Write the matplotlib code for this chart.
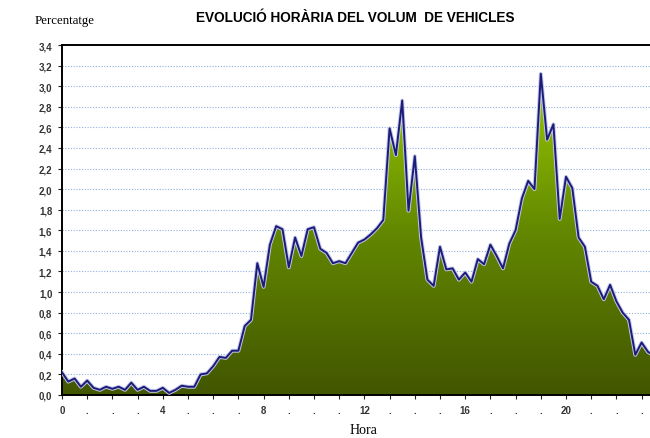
import matplotlib
matplotlib.use("Agg")
import matplotlib.pyplot as plt
import matplotlib.patheffects as pe
import numpy as np
from matplotlib.colors import LinearSegmentedColormap

# quarter-hour share of daily traffic (%), starting at 00:00
volum = [
    0.22, 0.13, 0.16, 0.08, 0.14, 0.07, 0.05, 0.08, 0.06, 0.08, 0.05, 0.12,
    0.05, 0.08, 0.04, 0.04, 0.07, 0.02, 0.05, 0.09, 0.08, 0.08, 0.20, 0.21,
    0.28, 0.37, 0.36, 0.43, 0.43, 0.67, 0.73, 1.28, 1.05, 1.46, 1.64, 1.61,
    1.24, 1.53, 1.35, 1.61, 1.63, 1.42, 1.38, 1.28, 1.30, 1.28, 1.38, 1.48,
    1.51, 1.56, 1.62, 1.70, 2.59, 2.33, 2.86, 1.79, 2.32, 1.53, 1.12, 1.06,
    1.44, 1.22, 1.23, 1.12, 1.19, 1.10, 1.32, 1.27, 1.46, 1.35, 1.23, 1.47,
    1.60, 1.91, 2.08, 2.00, 3.12, 2.48, 2.63, 1.71, 2.12, 2.01, 1.53, 1.44,
    1.10, 1.06, 0.93, 1.07, 0.91, 0.80, 0.73, 0.39, 0.51, 0.42, 0.38, 0.35,
]
hores = np.arange(len(volum)) * 0.25
tick_hores = list(range(24))
tick_labels = [str(h) if h % 4 == 0 else "." for h in tick_hores]
y_ticks = [round(0.2 * k, 1) for k in range(18)]

fig = plt.figure(figsize=(6.5, 4.39), dpi=100)
# plot area runs a little past the right edge of the canvas
ax = fig.add_axes([62 / 650, 43 / 439, 598.5 / 650, 350 / 439])

x_max = hores[-1]
y_max = 3.4
ax.set_xlim(0, x_max)
ax.set_ylim(0, y_max)

# vertical green gradient clipped to the area under the curve
cmap = LinearSegmentedColormap.from_list("verd", ["#425600", "#638800", "#9ccf00"])
grad = np.linspace(0, 1, 256).reshape(-1, 1)
img = ax.imshow(grad, cmap=cmap, origin="lower", aspect="auto",
                extent=[0, x_max, 0, 3.2], zorder=2)
poly = ax.fill_between(hores, volum, 0, color="none", zorder=2)
clip = poly.get_paths()[0]
img.set_clip_path(clip, transform=ax.transData)

ax.plot(hores, volum, color="#1b1b78", lw=1.4, zorder=4,
        path_effects=[pe.Stroke(linewidth=2.8, foreground="#c3c6ea"), pe.Normal()])

for yv in y_ticks[1:-1]:
    ax.axhline(yv, color="#8fb0de", lw=0.8, ls=(0, (1, 1.5)), zorder=1)

ax.set_xticks(tick_hores)
ax.set_xticklabels(tick_labels)
ax.set_yticks(y_ticks)
ax.set_yticklabels([f"{v:.1f}".replace(".", ",") for v in y_ticks])
ax.tick_params(axis="both", direction="out", length=3, width=0.8,
               labelsize=7, colors="#222222", pad=4)
for lab in ax.get_xticklabels() + ax.get_yticklabels():
    lab.set_fontfamily("Liberation Sans")
    lab.set_fontweight("bold")
    lab.set_color("#333333")

for side in ["left", "bottom", "top"]:
    ax.spines[side].set_linewidth(1.4)
    ax.spines[side].set_color("black")
ax.spines["right"].set_visible(False)

fig.text(355 / 650, 1 - 18 / 439, "EVOLUCIÓ HORÀRIA DEL VOLUM  DE VEHICLES",
         ha="center", va="center", fontsize=9.8, fontweight="bold",
         family="Liberation Sans")
fig.text(35 / 650, 1 - 21 / 439, "Percentatge", ha="left", va="center",
         fontsize=9.3, family="Liberation Serif")
fig.text(363 / 650, 1 - 431 / 439, "Hora", ha="center", va="center",
         fontsize=10, family="Liberation Serif")

fig.savefig("out.png", dpi=100)
